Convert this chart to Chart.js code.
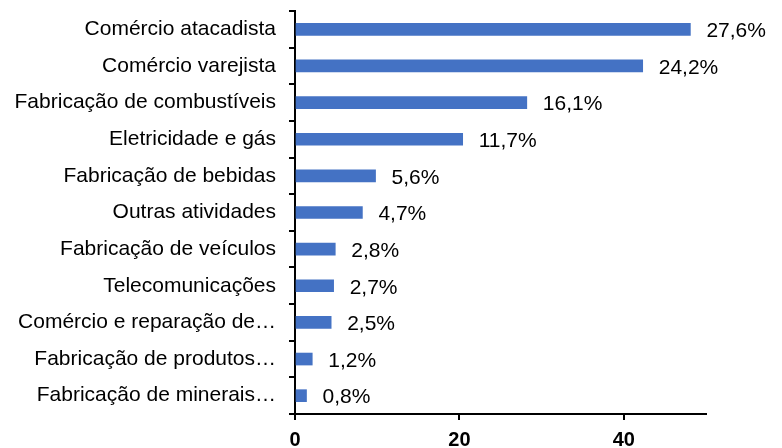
<!DOCTYPE html>
<html>
<head>
<meta charset="utf-8">
<script src="https://cdn.jsdelivr.net/npm/chart.js@4"></script>
<style>
  html, body { margin: 0; padding: 0; background: #fff; }
  #wrap { width: 782px; height: 448px; }
</style>
</head>
<body>
<div id="wrap"><canvas id="chart" width="782" height="448"></canvas></div>
<script>
// categories (top to bottom)
const sectors = [
  "Comércio atacadista",
  "Comércio varejista",
  "Fabricação de combustíveis",
  "Eletricidade e gás",
  "Fabricação de bebidas",
  "Outras atividades",
  "Fabricação de veículos",
  "Telecomunicações",
  "Comércio e reparação de…",
  "Fabricação de produtos…",
  "Fabricação de minerais…"
];
// bar lengths
const values = [48.1, 42.3, 28.2, 20.4, 9.8, 8.2, 4.9, 4.7, 4.4, 2.1, 1.4];
// share labels printed next to each bar
const shares = ["27,6%", "24,2%", "16,1%", "11,7%", "5,6%", "4,7%", "2,8%", "2,7%", "2,5%", "1,2%", "0,8%"];
const xTicks = [0, 20, 40];

const FONT = "'Liberation Sans', Arial, sans-serif";

// write the share label right of each bar
const shareLabels = {
  id: "shareLabels",
  afterDatasetsDraw(chart) {
    const ctx = chart.ctx;
    const meta = chart.getDatasetMeta(0);
    ctx.save();
    ctx.font = "21px " + FONT;
    ctx.fillStyle = "#000";
    ctx.textAlign = "left";
    ctx.textBaseline = "middle";
    meta.data.forEach((bar, i) => {
      ctx.fillText(shares[i], bar.x + 16, bar.y + 2);
    });
    ctx.restore();
  }
};

new Chart(document.getElementById("chart"), {
  type: "bar",
  data: {
    labels: sectors,
    datasets: [{
      data: values,
      backgroundColor: "#4472C4",
      barThickness: 12
    }]
  },
  options: {
    indexAxis: "y",
    responsive: false,
    animation: false,
    layout: { padding: { top: 11, right: 76, left: 0, bottom: 0 } },
    plugins: { legend: { display: false }, tooltip: { enabled: false } },
    scales: {
      x: {
        min: 0,
        max: 50,
        afterBuildTicks: scale => { scale.ticks = xTicks.map(v => ({ value: v })); },
        afterFit: scale => { scale.height = 34; scale.paddingLeft = 0; scale.paddingRight = 0; },
        grid: { drawOnChartArea: false, drawTicks: true, tickLength: 6, color: "#000", lineWidth: 2 },
        border: { display: true, color: "#000", width: 2 },
        ticks: { color: "#000", padding: 8, font: { family: FONT, size: 20, weight: "bold" } }
      },
      y: {
        afterFit: scale => { scale.width = 295; scale.paddingTop = 0; scale.paddingBottom = 0; },
        grid: { drawOnChartArea: false, drawTicks: true, tickLength: 6, color: "#000", lineWidth: 2, offset: true },
        border: { display: true, color: "#000", width: 2 },
        ticks: { color: "#000", padding: 13, autoSkip: false, font: { family: FONT, size: 21 } }
      }
    }
  },
  plugins: [shareLabels]
});
</script>
</body>
</html>
